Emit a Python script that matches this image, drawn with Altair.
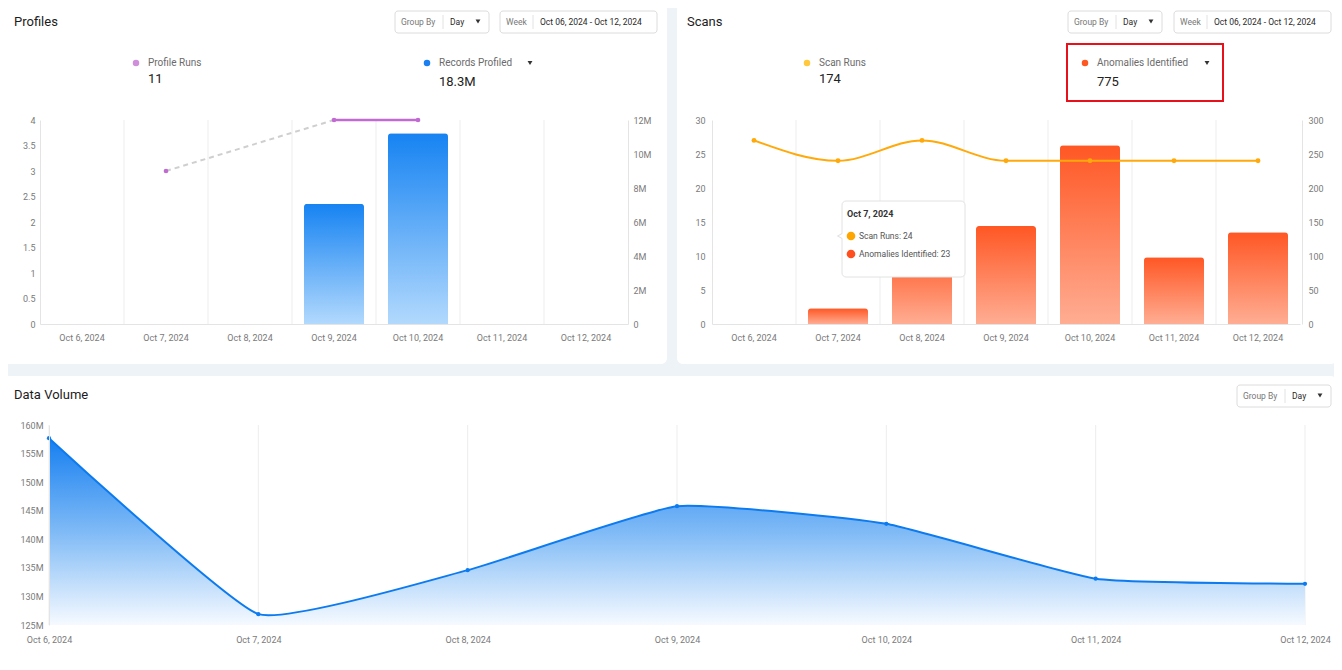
import altair as alt
import pandas as pd

# ---------------- data ----------------
dates = ["Oct 6, 2024", "Oct 7, 2024", "Oct 8, 2024", "Oct 9, 2024",
         "Oct 10, 2024", "Oct 11, 2024", "Oct 12, 2024"]
profile_runs = [None, 3, None, 4, 4, None, None]
records_profiled = [0, 0, 0, 7.08e6, 11.22e6, 0, 0]
scan_runs = [27, 24, 27, 24, 24, 24, 24]
anomalies = [0, 23, 112, 144, 263, 98, 135]
data_volume = [157.7e6, 126.9e6, 134.6e6, 145.8e6, 142.7e6, 133.1e6, 132.2e6]

runs_ticks = [0, 0.5, 1, 1.5, 2, 2.5, 3, 3.5, 4]
records_ticks = [0, 2e6, 4e6, 6e6, 8e6, 10e6, 12e6]
scan_ticks = [0, 5, 10, 15, 20, 25, 30]
anomaly_ticks = [0, 50, 100, 150, 200, 250, 300]
volume_ticks = [125e6, 130e6, 135e6, 140e6, 145e6, 150e6, 155e6, 160e6]
range_label = "Oct 06, 2024 - Oct 12, 2024"

# ---------------- tables ----------------
df_records = pd.DataFrame([{"date": d, "records": v}
                           for d, v in zip(dates, records_profiled) if v > 0])
pts = [(i, v) for i, v in enumerate(profile_runs) if v is not None]
df_runs_pts = pd.DataFrame([{"date": dates[i], "runs": v} for i, v in pts])
solid, dashed = [], []
for (i0, v0), (i1, v1) in zip(pts, pts[1:]):
    tgt = solid if i1 - i0 == 1 else dashed
    seg = len(tgt) // 2
    tgt += [{"date": dates[i0], "runs": v0, "seg": seg},
            {"date": dates[i1], "runs": v1, "seg": seg}]
df_solid = pd.DataFrame(solid)
df_dashed = pd.DataFrame(dashed)
df_scans = pd.DataFrame({"date": dates, "runs": scan_runs, "anom": anomalies})
df_anom = df_scans[df_scans["anom"] > 0]
df_vol = pd.DataFrame({"date": dates, "vol": data_volume})
df_grid_band = pd.DataFrame({"date": dates[1:]})
df_grid_pts = pd.DataFrame({"date": dates})

total_runs = int(sum(v for v in profile_runs if v is not None))
total_records = f"{sum(records_profiled) / 1e6:.1f}M"
total_scans = str(sum(scan_runs))
total_anom = str(sum(anomalies))

# ---------------- layout helpers ----------------
OFF = 8
W, H = 1326, 654
FONT = "Roboto"
one = pd.DataFrame({"k": [0]})


def px(v):
    return v - OFF


def text(x, y, s, size=10, color="#666666", weight="normal", align="left"):
    return alt.Chart(one).mark_text(
        text=s, align=align, baseline="middle", font=FONT, fontSize=size,
        color=color, fontWeight=weight
    ).encode(x=alt.value(px(x)), y=alt.value(px(y)))


def box(x0, y0, x1, y1, fill="#ffffff", stroke=None, sw=1, r=0, fo=1):
    kw = dict(fill=fill, fillOpacity=fo, cornerRadius=r)
    if stroke:
        kw.update(stroke=stroke, strokeWidth=sw)
    return alt.Chart(one).mark_rect(**kw).encode(
        x=alt.value(px(x0)), x2=alt.value(px(x1)),
        y=alt.value(px(y0)), y2=alt.value(px(y1)))


def dot(x, y, color, size=40, shape="circle"):
    return alt.Chart(one).mark_point(
        shape=shape, filled=True, size=size, color=color, opacity=1
    ).encode(x=alt.value(px(x)), y=alt.value(px(y)))


def vline(x, y0, y1, color="#e2e2e2"):
    return alt.Chart(one).mark_rule(color=color, strokeWidth=1).encode(
        x=alt.value(px(x)), y=alt.value(px(y0)), y2=alt.value(px(y1)))


def group_by(x0, y0):
    return [box(x0, y0, x0 + 94, y0 + 22, stroke="#dcdcdc", r=3),
            text(x0 + 6, y0 + 11, "Group By", 8.5, "#777777"),
            vline(x0 + 48, y0 + 4, y0 + 18),
            text(x0 + 55, y0 + 11, "Day", 8.5, "#2a2a2a"),
            dot(x0 + 83, y0 + 10.5, "#333333", 24, "triangle-down")]


def week(x0, y0):
    return [box(x0, y0, x0 + 157, y0 + 22, stroke="#dcdcdc", r=3),
            text(x0 + 6, y0 + 11, "Week", 8.5, "#777777"),
            vline(x0 + 33, y0 + 4, y0 + 18),
            text(x0 + 40, y0 + 11, range_label, 8.5, "#2a2a2a")]


def kpi(x, label, value, color, caret=None, vy=79):
    items = [dot(x - 12, 63, color, 42),
             text(x, 63, label, 10, "#6b6b6b"),
             text(x, vy, value, 13, "#222222")]
    if caret:
        items.append(dot(caret, 63, "#333333", 24, "triangle-down"))
    return items


def grad(top, bottom, mid=None):
    stops = [alt.GradientStop(color=top, offset=0)]
    if mid:
        stops.append(alt.GradientStop(color=mid, offset=0.5))
    stops.append(alt.GradientStop(color=bottom, offset=1))
    return alt.Gradient(gradient="linear", stops=stops, x1=0, x2=0, y1=0, y2=1)


AX = dict(ticks=False, tickSize=0, grid=False, labelFont=FONT, labelFontSize=9,
          labelColor="#7a7a7a", domainColor="#e4e4e4", zindex=1, title=None)

# ---------------- Profiles ----------------
p_x = [px(40), px(628)]
p_y = [px(324), px(120)]


def p_band():
    return alt.Scale(type="band", domain=dates, range=p_x,
                     paddingInner=2 / 7, paddingOuter=1 / 7)


prof_grid = alt.Chart(df_grid_band).mark_rule(color="#ededed").encode(
    x=alt.X("date:N", bandPosition=0, axis=None,
            scale=alt.Scale(type="band", domain=dates, range=p_x,
                            paddingInner=0, paddingOuter=0)),
    y=alt.YDatum(0, type="quantitative", axis=None,
                 scale=alt.Scale(domain=[0, 4], range=p_y, nice=False)),
    y2=alt.Y2Datum(4))

prof_bars = alt.Chart(df_records).mark_bar(
    fill=grad("#1683f2", "#b2d9fd"), cornerRadiusTopLeft=3, cornerRadiusTopRight=3
).encode(
    x=alt.X("date:N", scale=p_band(),
            axis=alt.Axis(orient="bottom", offset=px(324) - H, labelPadding=9,
                          labelAngle=0, **AX)),
    y=alt.Y("records:Q", scale=alt.Scale(domain=[0, 12e6], range=p_y, nice=False),
            axis=alt.Axis(orient="right", offset=px(628) - W, values=records_ticks,
                          labelPadding=5,
                          labelExpr="datum.value == 0 ? '0' : format(datum.value / 1000000, 'd') + 'M'",
                          **AX)))


def runs_y(axis):
    return alt.Y("runs:Q", scale=alt.Scale(domain=[0, 4], range=p_y, nice=False), axis=axis)


prof_dashed = alt.Chart(df_dashed).mark_line(
    color="#cfcfcf", strokeWidth=2, strokeDash=[5, 4]
).encode(x=alt.X("date:N", scale=p_band(), axis=None), y=runs_y(None), detail="seg:N")

prof_solid = alt.Chart(df_solid).mark_line(color="#c06ad2", strokeWidth=2.5).encode(
    x=alt.X("date:N", scale=p_band(), axis=None),
    y=runs_y(alt.Axis(orient="left", offset=-px(40), values=runs_ticks,
                      labelExpr="format(datum.value, '~g')",
                      labelPadding=5, **AX)),
    detail="seg:N")

prof_pts = alt.Chart(df_runs_pts).mark_circle(color="#c06ad2", size=22, opacity=1).encode(
    x=alt.X("date:N", scale=p_band(), axis=None), y=runs_y(None))

# ---------------- Scans ----------------
s_x = [px(712), px(1300)]
s_y = [px(324), px(120)]


def s_band():
    return alt.Scale(type="band", domain=dates, range=s_x,
                     paddingInner=2 / 7, paddingOuter=1 / 7)


scan_grid = alt.Chart(df_grid_band).mark_rule(color="#ededed").encode(
    x=alt.X("date:N", bandPosition=0, axis=None,
            scale=alt.Scale(type="band", domain=dates, range=s_x,
                            paddingInner=0, paddingOuter=0)),
    y=alt.YDatum(0, type="quantitative", axis=None,
                 scale=alt.Scale(domain=[0, 30], range=s_y, nice=False)),
    y2=alt.Y2Datum(30))

anom_bars = alt.Chart(df_anom).mark_bar(
    fill=grad("#ff5724", "#ffad93"), cornerRadiusTopLeft=3, cornerRadiusTopRight=3
).encode(
    x=alt.X("date:N", scale=s_band(),
            axis=alt.Axis(orient="bottom", offset=px(324) - H, labelPadding=9,
                          labelAngle=0, **AX)),
    y=alt.Y("anom:Q", scale=alt.Scale(domain=[0, 300], range=s_y, nice=False),
            axis=alt.Axis(orient="right", offset=px(1302) - W, values=anomaly_ticks,
                          labelExpr="format(datum.value, 'd')", labelPadding=6, **AX)))


def scan_y(axis):
    return alt.Y("runs:Q", scale=alt.Scale(domain=[0, 30], range=s_y, nice=False), axis=axis)


scan_line = alt.Chart(df_scans).mark_line(
    color="#ffa90a", strokeWidth=2, interpolate="monotone"
).encode(
    x=alt.X("date:N", scale=s_band(), axis=None),
    y=scan_y(alt.Axis(orient="left", offset=-px(712), values=scan_ticks,
                      labelExpr="format(datum.value, 'd')",
                      labelPadding=7, **AX)))

scan_pts = alt.Chart(df_scans).mark_circle(color="#ffa90a", size=24, opacity=1).encode(
    x=alt.X("date:N", scale=s_band(), axis=None), y=scan_y(None))

# ---------------- Data Volume ----------------
v_x = [px(49), px(1305)]
v_y = [px(625), px(425)]


def v_point():
    return alt.Scale(type="point", domain=dates, range=v_x, padding=0)


def v_scale():
    return alt.Scale(domain=[125e6, 160e6], range=v_y, nice=False, zero=False)


vol_grid = alt.Chart(df_grid_pts).mark_rule(color="#ededed").encode(
    x=alt.X("date:N", scale=v_point(), axis=None),
    y=alt.YDatum(125e6, type="quantitative", axis=None, scale=v_scale()),
    y2=alt.Y2Datum(160e6))

vol_area = alt.Chart(df_vol).mark_area(
    fill=grad("#167ff0", "#f6faff", "#7fbaf6"), fillOpacity=1,
    interpolate="cardinal", tension=0.6
).encode(
    x=alt.X("date:N", scale=v_point(),
            axis=alt.Axis(orient="bottom", offset=px(625) - H, labelPadding=10,
                          labelAngle=0, labelOverlap=False, labelFlush=False,
                          domain=False, **AX)),
    y=alt.Y("vol:Q", scale=v_scale(),
            axis=alt.Axis(orient="left", offset=-px(49), values=volume_ticks,
                          labelPadding=6,
                          labelExpr="format(datum.value / 1000000, 'd') + 'M'", **AX)),
    y2=alt.Y2Datum(125e6))

vol_line = alt.Chart(df_vol).mark_line(
    color="#0c7bf0", strokeWidth=2, interpolate="cardinal", tension=0.6
).encode(x=alt.X("date:N", scale=v_point(), axis=None),
         y=alt.Y("vol:Q", scale=v_scale(), axis=None))

vol_pts = alt.Chart(df_vol).mark_circle(color="#0c7bf0", size=18, opacity=1).encode(
    x=alt.X("date:N", scale=v_point(), axis=None),
    y=alt.Y("vol:Q", scale=v_scale(), axis=None))

# ---------------- chrome ----------------
cards = [box(4, 4, 667, 364, r=6), box(677, 4, 1337, 364, r=6), box(4, 376, 1337, 666, r=6)]

chrome = []
chrome += [text(14, 22, "Profiles", 13, "#1c1c1c"),
           text(687, 22, "Scans", 13, "#1c1c1c"),
           text(14, 395, "Data Volume", 13, "#1c1c1c")]
chrome += group_by(395, 11) + week(500, 11)
chrome += group_by(1068, 11) + week(1174, 11)
chrome += group_by(1237, 385)
chrome += kpi(148, "Profile Runs", str(total_runs), "#cf8fdb")
chrome += kpi(439, "Records Profiled", total_records, "#1a7ff0", caret=530, vy=82)
chrome += kpi(819, "Scan Runs", total_scans, "#ffc83d")
chrome += kpi(1097, "Anomalies Identified", total_anom, "#ff5722", caret=1207, vy=82)
chrome += [box(1067, 44, 1223, 101, fo=0, stroke="#e8101a", sw=2)]

tip = 1
tooltip = [
    dot(840, 236, "#e2e2e2", 60, "triangle-left"),
    box(842, 201, 965, 277, stroke="#e2e2e2", r=4),
    dot(841.5, 236, "#ffffff", 40, "triangle-left"),
    text(847, 214, dates[tip], 9, "#333333", "bold"),
    dot(851, 236, "#ffa500", 75),
    text(859, 236, f"Scan Runs: {scan_runs[tip]}", 8.5, "#555555"),
    dot(851, 254, "#ff4f1f", 75),
    text(859, 254, f"Anomalies Identified: {anomalies[tip]}", 8.5, "#555555"),
]

layers = (cards
          + [prof_grid, scan_grid, vol_grid]
          + [prof_bars, anom_bars, vol_area]
          + [prof_dashed, prof_solid, prof_pts, scan_line, scan_pts, vol_line, vol_pts]
          + chrome + tooltip)

chart = alt.layer(*layers).resolve_scale(
    x="independent", y="independent"
).resolve_axis(
    x="independent", y="independent"
).properties(
    width=W, height=H, autosize=alt.AutoSizeParams(type="none"), padding=0,
    background="#eef3f8"
).configure_view(strokeWidth=0)

chart.save("out.html", embed_options={"renderer": "svg", "actions": False})
